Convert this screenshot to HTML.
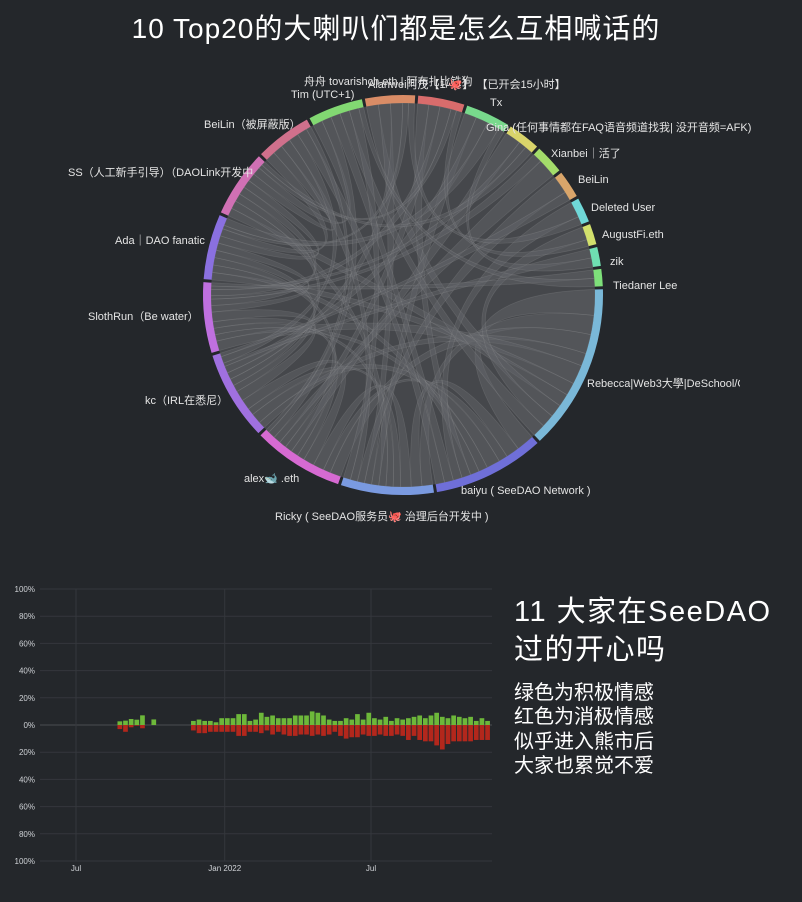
<!DOCTYPE html>
<html><head><meta charset="utf-8">
<style>
html,body{margin:0;padding:0;background:#24272b;}
body{width:802px;height:897px;overflow:hidden;font-family:"Liberation Sans","Noto Sans CJK SC",sans-serif;}
svg text{font-family:"Liberation Sans","Noto Sans CJK SC",sans-serif;}
</style></head>
<body>
<svg id="root" width="802" height="897" viewBox="0 0 802 897">
  <rect x="0" y="0" width="802" height="897" fill="#24272b"/>
  <text x="396" y="38" font-size="28" fill="#ffffff" text-anchor="middle" letter-spacing="1">10 Top20的大喇叭们都是怎么互相喊话的</text>
  <g id="chord"></g>
  <g id="labels" font-size="11" fill="#e4e4e4">
    <text x="304" y="85">舟舟 tovarishch.eth | 阿布扎比铁狗</text>
    <text x="368" y="88">Alanwei阿茂【1/🐙】 【已开会15小时】</text>
    <text x="291" y="98">Tim (UTC+1)</text>
    <text x="490" y="106">Tx</text>
    <text x="486" y="131">Gina (任何事情都在FAQ语音频道找我| 没开音频=AFK)</text>
    <text x="551" y="157">Xianbei｜活了</text>
    <text x="578" y="183">BeiLin</text>
    <text x="591" y="211">Deleted User</text>
    <text x="602" y="238">AugustFi.eth</text>
    <text x="610" y="265">zik</text>
    <text x="613" y="289">Tiedaner Lee</text>
    <text x="587" y="387">Rebecca|Web3大學|DeSchool/O</text>
    <text x="461" y="494">baiyu ( SeeDAO Network )</text>
    <text x="275" y="520">Ricky ( SeeDAO服务员🐙 治理后台开发中 )</text>
    <text x="244" y="482">alex🐋 .eth</text>
    <text x="145" y="404">kc（IRL在悉尼）</text>
    <text x="88" y="320">SlothRun（Be water）</text>
    <text x="115" y="244">Ada｜DAO fanatic</text>
    <text x="68" y="176">SS（人工新手引导）（DAOLink开发中</text>
    <text x="204" y="128">BeiLin（被屏蔽版）</text>
  </g>
  <rect x="740" y="370" width="62" height="25" fill="#24272b"/>
  <g id="bars"></g>
  <text x="514" y="621" font-size="29" fill="#ffffff" letter-spacing="1.5">11 大家在SeeDAO</text>
  <text x="514" y="659" font-size="29" fill="#ffffff" letter-spacing="1.5">过的开心吗</text>
  <g font-size="20" fill="#ffffff">
    <text x="514" y="699">绿色为积极情感</text>
    <text x="514" y="723">红色为消极情感</text>
    <text x="514" y="748">似乎进入熊市后</text>
    <text x="514" y="772">大家也累觉不爱</text>
  </g>
</svg>
<script>
// ---- chord data ----
const groupNames = ["Alanwei","舟舟","Tx","Gina","Xianbei","BeiLin","Deleted User","AugustFi","zik","Tiedaner","Rebecca","baiyu","Ricky","alex","kc","SlothRun","Ada","SS","BeiLin2","Tim"];
const groupSizes = [14.5,13.5,13,9.5,8.5,8,7.2,6,5.5,5,48.5,32.5,27,26.5,26,20.5,19,19.5,16.5,16];
const groupColors = ["#d98c66","#d86c6c","#78d98c","#d9d46a","#a3dc6a","#d9a56a","#6fd8d8","#d2e06c","#6fe0b2","#7ee07a","#7ab8d8","#6f6fd8","#7a9ae0","#d66ad2","#a070e0","#c070e0","#8a70e0","#d070b4","#d0708c","#82d872"];
const chordSrc = [10,10,10,10,10,10,10,10,11,11,11,11,11,11,12,12,12,12,12,13,13,13,13,14,14,14,15,15,15,16,16,17,17,0,0,0,1,1,1,2,2,3,3,4,5,6,7,8,9,19,19,18,18,10,11,12,13,14,0,1,2,19];
const chordTgt = [11,12,13,14,15,16,17,0,12,13,14,15,16,1,13,14,15,17,2,14,15,16,3,15,16,17,16,17,4,17,18,18,19,12,14,16,13,15,17,14,16,15,17,13,12,11,10,14,15,13,11,12,14,19,18,19,18,5,6,7,8,9];
const chordW   = [4,3,3,2,3,2,2,2,3,2,3,2,2,2,3,2,2,2,2,3,2,2,2,3,2,2,2,2,1,2,2,2,2,2,2,1,2,2,1,2,2,1,1,2,2,2,2,1,1,2,2,2,2,2,2,2,1,1,1,1,1,1];

// ---- sentiment data ----
const weekStart = "2021-08-23";
const weekIndex = [0,1,2,3,4,6,13,14,15,16,17,18,19,20,21,22,23,24,25,26,27,28,29,30,31,32,33,34,35,36,37,38,39,40,41,42,43,44,45,46,47,48,49,50,51,52,53,54,55,56,57,58,59,60,61,62,63,64,65];
const positive = [2.7,3.2,4.4,3.9,7.1,4.1,3,4,3,3,2,5,5,5,8,8,3,4,9,6,7,5,5,5,7,7,7,10,9,7,4,3,3,5,4,8,4,9,5,4,6,3,5,4,5,6,7,5,7,9,6,5,7,6,5,6,3,5,3];
const negative = [3,5,1.7,0.5,2.4,0,4,6,6,5,5,5,5,5,8,8,5,5,6,4,7,5,7,8,8,7,7,8,7,8,7,5,8,10,9,9,7,8,8,7,8,8,7,8,11,8,11,12,12,15,18,14,12,12,12,12,11,11,11];
const yTicks = [100,80,60,40,20,0,20,40,60,80,100];
const yTickVals = [100,80,60,40,20,0,-20,-40,-60,-80,-100];
const xTickLabels = ["Jul","Jan 2022","Jul"];
const xTickDates = ["2021-07-01","2022-01-01","2022-07-01"];

const NS="http://www.w3.org/2000/svg";
function mk(tag,attrs,parent){const e=document.createElementNS(NS,tag);for(const k in attrs)e.setAttribute(k,attrs[k]);parent.appendChild(e);return e;}

(function(){
  const g=document.getElementById('chord');
  const cx=403,cy=295,rOut=200,rIn=192;
  const total=groupSizes.reduce((a,b)=>a+b,0);
  const gap=(360-total)/groupSizes.length;
  const start=-11;
  const starts=[],ends=[];let a=start;
  groupSizes.forEach((s,i)=>{starts[i]=a;ends[i]=a+s;a+=s+gap;});
  const pt=(deg,r)=>{const t=deg*Math.PI/180;return [cx+r*Math.sin(t),cy-r*Math.cos(t)];};
  const disk=mk('circle',{cx,cy,r:rIn,fill:'#45474b'},g);
  
  
  const tot=groupSizes.map(()=>0);
  chordSrc.forEach((s,i)=>{tot[s]+=chordW[i];tot[chordTgt[i]]+=chordW[i];});
  const cur=starts.slice();
  const sub=(gi,w)=>{const span=groupSizes[gi]*w/tot[gi];const a0=cur[gi];cur[gi]+=span;return [a0,a0+span];};
  chordSrc.forEach((s,i)=>{
    const t=chordTgt[i];
    const [s0,s1]=sub(s,chordW[i]);const [t0,t1]=sub(t,chordW[i]);
    const p1=pt(s0,rIn),p2=pt(s1,rIn),p3=pt(t0,rIn),p4=pt(t1,rIn);
    const d=`M${p1[0]},${p1[1]} A${rIn},${rIn} 0 0 1 ${p2[0]},${p2[1]} Q${cx},${cy} ${p3[0]},${p3[1]} A${rIn},${rIn} 0 0 1 ${p4[0]},${p4[1]} Q${cx},${cy} ${p1[0]},${p1[1]}Z`;
    const p=mk('path',{d,fill:'rgba(100,102,106,0.45)',stroke:'rgba(200,200,200,0.16)','stroke-width':0.7},g);
    
    
  });
  groupSizes.forEach((s,i)=>{
    const a0=starts[i],a1=ends[i];
    const o0=pt(a0,rOut),o1=pt(a1,rOut),i1=pt(a1,rIn),i0=pt(a0,rIn);
    const large=(a1-a0)>180?1:0;
    const d=`M${o0[0]},${o0[1]} A${rOut},${rOut} 0 ${large} 1 ${o1[0]},${o1[1]} L${i1[0]},${i1[1]} A${rIn},${rIn} 0 ${large} 0 ${i0[0]},${i0[1]}Z`;
    const p=mk('path',{d,fill:groupColors[i]},g);
    
    
  });
})();

(function(){
  const g=document.getElementById('bars');
  const x0=40,x1=492,yTop=589,yBot=861,yZero=725;
  const yScale=v=>yZero-v*(yZero-yTop)/100;
  const day=ds=>Date.parse(ds)/86400000;
  const d0=day("2021-07-01"),d1=day("2022-07-01");
  const xScale=d=>76+(d-d0)*(371-76)/(d1-d0);
  yTickVals.forEach((v,i)=>{
    const y=yScale(v);
    const l=mk('line',{x1:x0,x2:x1,y1:y,y2:y,stroke:v===0?'#4a4d52':'#34373c','stroke-width':1},g);
    
    
    const t=mk('text',{x:35,y:y+3,'font-size':8,fill:'#cfd2d6','text-anchor':'end'},g);
    
    
    t.textContent=yTicks[i]+'%';
  });
  xTickDates.forEach((ds,i)=>{
    const x=xScale(day(ds));
    const l=mk('line',{x1:x,x2:x,y1:yTop,y2:yBot,stroke:'#34373c','stroke-width':1},g);
    
    
    const t=mk('text',{x:x,y:yBot+10,'font-size':8,fill:'#cfd2d6','text-anchor':'middle'},g);
    
    
    t.textContent=xTickLabels[i];
  });
  const ws=day(weekStart);
  const bw=4.7;
  weekIndex.forEach((wi,i)=>{
    const x=xScale(ws+wi*7)-bw/2+1;
    if(positive[i]>0){
      const r=mk('rect',{x,width:bw,y:yScale(positive[i]),height:yZero-yScale(positive[i]),fill:'#6db83a'},g);
      
      
    }
    if(negative[i]>0){
      const r=mk('rect',{x,width:bw,y:yZero,height:yScale(-negative[i])-yZero,fill:'#b3271c'},g);
      
      
    }
  });
})();
</script>
</body></html>
